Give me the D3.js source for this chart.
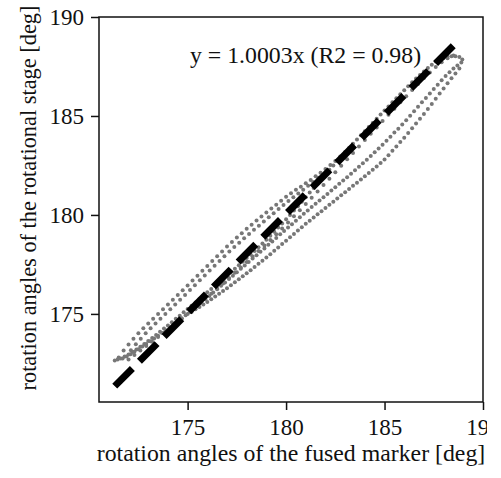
<!DOCTYPE html>
<html>
<head>
<meta charset="utf-8">
<script src="https://cdn.jsdelivr.net/npm/d3@7"></script>
<style>
  body { margin: 0; background: #fff; }
  svg { display: block; }
  text { font-family: "Liberation Serif", "Times New Roman", serif; fill: #111; }
</style>
</head>
<body>
<div id="chart"></div>
<script>
// tick labels
const xTicks = [175, 180, 185, 190];
const yTicks = [175, 180, 185, 190];

// fitted line y = 1.0003x, drawn over the measured range
const fitSlope = 1.0003;
const fitX = [171.3, 188.6];
const fitLabel = 'y = 1.0003x (R2 = 0.98)';

// measured points: [fused marker angle, rotational stage angle] (deg)
// upper dotted pass (outer row)
const passUpperA = [
  [171.50,172.80],[171.75,173.15],[172.00,173.45],[172.25,173.75],[172.50,174.02],[172.75,174.28],
  [173.00,174.52],[173.25,174.75],[173.50,175.00],[173.75,175.23],[174.00,175.47],[174.25,175.71],
  [174.50,175.95],[174.75,176.20],[175.00,176.44],[175.25,176.69],[175.50,176.93],[175.75,177.18],
  [176.00,177.42],[176.25,177.67],[176.50,177.91],[176.75,178.15],[177.00,178.40],[177.25,178.63],
  [177.50,178.86],[177.75,179.08],[178.00,179.30],[178.25,179.51],[178.50,179.72],[178.75,179.92],
  [179.00,180.12],[179.25,180.32],[179.50,180.52],[179.75,180.72],[180.00,180.92],[180.25,181.10],
  [180.50,181.27],[180.75,181.43],[181.00,181.60],[181.25,181.77],[181.50,181.95],[181.75,182.13],
  [182.00,182.32],[182.25,182.52],[182.50,182.73],[182.75,182.95],[183.00,183.18]
];
// upper dotted pass (inner row)
const passUpperB = [
  [172.12,173.17],[172.37,173.47],[172.62,173.75],[172.87,174.02],[173.12,174.27],[173.37,174.51],
  [173.62,174.75],[173.87,174.99],[174.12,175.23],[174.37,175.47],[174.62,175.72],[174.87,175.96],
  [175.12,176.21],[175.37,176.45],[175.62,176.70],[175.87,176.94],[176.12,177.19],[176.37,177.43],
  [176.62,177.67],[176.87,177.91],[177.12,178.15],[177.37,178.38],[177.62,178.60],[177.87,178.82],
  [178.12,179.04],[178.37,179.25],[178.62,179.46],[178.87,179.67],[179.12,179.88],[179.37,180.09],
  [179.62,180.30],[179.87,180.50],[180.12,180.70],[180.37,180.89],[180.62,181.08],[180.87,181.27],
  [181.12,181.47],[181.37,181.67],[181.62,181.88]
];
// dense pass close to the fit line
const passMidA = [
  [171.30,172.65],[171.45,172.70],[171.60,172.75],[171.80,172.85],[172.00,172.95],[172.20,173.07],
  [172.40,173.20],[172.60,173.34],[172.80,173.48],[173.00,173.63],[173.20,173.78],[173.40,173.94],
  [173.60,174.10],[173.80,174.26],[174.00,174.42],[174.20,174.58],[174.40,174.75],[174.60,174.91],
  [174.80,175.08],[175.00,175.25],[175.20,175.41],[175.40,175.58],[175.60,175.75],[175.80,175.92],
  [176.00,176.09],[176.20,176.26],[176.40,176.43],[176.60,176.60],[176.80,176.77],[177.00,176.94],
  [177.20,177.11],[177.40,177.28],[177.60,177.46],[177.80,177.64],[178.00,177.82],[178.20,178.00],
  [178.40,178.18],[178.60,178.37],[178.80,178.56],[179.00,178.75],[179.20,178.95],[179.40,179.15],
  [179.60,179.36],[179.80,179.57],[180.00,179.78],[180.20,180.00],[180.40,180.22],[180.60,180.44],
  [180.80,180.67],[181.00,180.90],[181.20,181.13],[181.40,181.36],[181.60,181.59],[181.80,181.82],
  [182.00,182.05],[182.20,182.28],[182.40,182.50],[182.60,182.72],[182.80,182.94],[183.00,183.16],
  [183.20,183.38],[183.40,183.60],[183.60,183.81],[183.80,184.02],[184.00,184.23],[184.20,184.44],
  [184.40,184.65],[184.60,184.86],[184.80,185.07],[185.00,185.28],[185.20,185.48],[185.40,185.69],
  [185.60,185.89],[185.80,186.10],[186.00,186.30],[186.20,186.50],[186.40,186.70],[186.60,186.89],
  [186.80,187.07],[187.00,187.25],[187.20,187.42],[187.40,187.59],[187.60,187.75],[187.80,187.85],
  [188.00,187.93],[188.20,188.00],[188.40,188.02],[188.60,188.02],[188.80,187.98],[188.95,187.85]
];
// second pass just under the fit line
const passMidB = [
  [172.0,172.70],[172.3,172.92],[172.6,173.15],[172.9,173.38],[173.2,173.60],[173.5,173.83],
  [173.8,174.05],[174.1,174.28],[174.4,174.52],[174.7,174.76],[175.0,175.00],[175.3,175.25],
  [175.6,175.51],[175.9,175.76],[176.2,176.02],[176.5,176.28],[176.8,176.54],[177.1,176.81],
  [177.4,177.08],[177.7,177.35],[178.0,177.62],[178.3,177.90],[178.6,178.18],[178.9,178.46],
  [179.2,178.74],[179.5,179.03],[179.8,179.32],[180.1,179.62],[180.4,179.93],[180.7,180.24],
  [181.0,180.55],[181.3,180.87],[181.6,181.19],[181.9,181.51],[182.2,181.83],[182.5,182.16],
  [182.8,182.48],[183.1,182.81],[183.4,183.13],[183.7,183.46],[184.0,183.78],[184.3,184.10],
  [184.6,184.42],[184.9,184.74],[185.2,185.06],[185.5,185.37],[185.8,185.69],[186.1,186.00],
  [186.4,186.31],[186.7,186.62],[187.0,186.92],[187.3,187.20],[187.6,187.47],[187.9,187.72],
  [188.2,187.92],[188.5,188.05]
];
// return pass below the line (upper row)
const passLowA = [
  [188.9,187.70],[188.7,187.55],[188.5,187.40],[188.3,187.21],[188.1,187.02],[187.9,186.81],
  [187.7,186.58],[187.5,186.36],[187.3,186.14],[187.1,185.91],[186.9,185.69],[186.7,185.46],
  [186.5,185.24],[186.3,185.01],[186.1,184.79],[185.9,184.57],[185.7,184.36],[185.5,184.16],
  [185.3,183.95],[185.1,183.75],[184.9,183.55],[184.7,183.36],[184.5,183.17],[184.3,182.98],
  [184.1,182.79],[183.9,182.61],[183.7,182.44],[183.5,182.26],[183.3,182.08],[183.1,181.91],
  [182.9,181.74],[182.7,181.57],[182.5,181.40],[182.3,181.23],[182.1,181.06],[181.9,180.90],
  [181.7,180.73],[181.5,180.57],[181.3,180.40],[181.1,180.23],[180.9,180.06],[180.7,179.88],
  [180.5,179.71],[180.3,179.53],[180.1,179.36],[179.9,179.19],[179.7,179.02],[179.5,178.84],
  [179.3,178.66],[179.1,178.49],[178.9,178.31],[178.7,178.14],[178.5,177.97],[178.3,177.80],
  [178.1,177.62],[177.9,177.45],[177.7,177.28],[177.5,177.10],[177.3,176.93],[177.1,176.76],
  [176.9,176.59],[176.7,176.42],[176.5,176.25],[176.3,176.08],[176.1,175.91],[175.9,175.74],
  [175.7,175.57],[175.5,175.41],[175.3,175.25],[175.1,175.08],[174.9,174.93],[174.7,174.78],
  [174.5,174.63],[174.3,174.48],[174.1,174.32],[173.9,174.18],[173.7,174.04],[173.5,173.90],
  [173.3,173.76],[173.1,173.62],[172.9,173.48],[172.7,173.35],[172.5,173.22],[172.3,173.09],
  [172.1,172.96],[171.9,172.85],[171.7,172.75]
];
// return pass below the line (lower row)
const passLowB = [
  [188.8,187.40],[188.6,187.15],[188.4,186.90],[188.2,186.65],[188.0,186.39],[187.8,186.13],
  [187.6,185.87],[187.4,185.61],[187.2,185.35],[187.0,185.10],[186.8,184.86],[186.6,184.62],
  [186.4,184.38],[186.2,184.14],[186.0,183.90],[185.8,183.68],[185.6,183.46],[185.4,183.24],
  [185.2,183.02],[185.0,182.80],[184.8,182.62],[184.6,182.45],[184.4,182.28],[184.2,182.12],
  [184.0,181.95],[183.8,181.79],[183.6,181.63],[183.4,181.47],[183.2,181.31],[183.0,181.15],
  [182.8,180.99],[182.6,180.83],[182.4,180.67],[182.2,180.51],[182.0,180.35],[181.8,180.19],
  [181.6,180.03],[181.4,179.87],[181.2,179.71],[181.0,179.55],[180.8,179.38],[180.6,179.21],
  [180.4,179.04],[180.2,178.87],[180.0,178.70],[179.8,178.53],[179.6,178.36],[179.4,178.19],
  [179.2,178.02],[179.0,177.85],[178.8,177.69],[178.6,177.53],[178.4,177.37],[178.2,177.21],
  [178.0,177.05],[177.8,176.90],[177.6,176.75],[177.4,176.60],[177.2,176.45],[177.0,176.30],
  [176.8,176.16],[176.6,176.02],[176.4,175.88],[176.2,175.74],[176.0,175.60],[175.8,175.48],
  [175.6,175.35],[175.4,175.23],[175.2,175.10]
];

const passes = [passUpperA, passUpperB, passMidA, passMidB, passLowA, passLowB];

const width = 501, height = 478;
const margin = { top: 17, right: 18, bottom: 76, left: 99 };
const serif = '"Liberation Serif", "Times New Roman", serif';

const svg = d3.select('#chart').append('svg')
  .attr('width', width)
  .attr('height', height);

svg.append('rect').attr('width', width).attr('height', height).attr('fill', '#fff');

const x = d3.scaleLinear()
  .domain([170.5, 190])
  .range([margin.left, width - margin.right]);

const y = d3.scaleLinear()
  .domain([170.55, 190])
  .range([height - margin.bottom, margin.top]);

// the source picture is cropped just right of the plot frame
svg.append('clipPath').attr('id', 'crop')
  .append('rect').attr('x', 0).attr('y', 0).attr('width', 487).attr('height', height);

// points
const pts = svg.append('g');
passes.forEach(pass => {
  pts.selectAll(null)
    .data(pass)
    .enter()
    .append('circle')
    .attr('cx', d => x(d[0]))
    .attr('cy', d => y(d[1]))
    .attr('r', 2)
    .attr('fill', '#777');
});

// fit line
svg.append('line')
  .attr('x1', x(fitX[0])).attr('y1', y(fitX[0] * fitSlope))
  .attr('x2', x(fitX[1])).attr('y2', y(fitX[1] * fitSlope))
  .attr('stroke', '#000')
  .attr('stroke-width', 7)
  .attr('stroke-dasharray', '25,10');

svg.append('text')
  .attr('x', 190)
  .attr('y', 63)
  .attr('font-size', 23.8)
  .text(fitLabel);

// axes
const xAxis = svg.append('g')
  .attr('transform', `translate(0,${height - margin.bottom})`)
  .attr('clip-path', 'url(#crop)')
  .call(d3.axisBottom(x).tickValues(xTicks).tickSize(8).tickPadding(9).tickFormat(d3.format('d')));

const yAxis = svg.append('g')
  .attr('transform', `translate(${margin.left},0)`)
  .call(d3.axisLeft(y).tickValues(yTicks).tickSize(8).tickPadding(7).tickFormat(d3.format('d')));

[xAxis, yAxis].forEach(a => {
  a.select('.domain').remove();
  a.selectAll('line').attr('stroke', '#111').attr('stroke-width', 1.5);
  a.selectAll('text')
    .attr('font-size', 23)
    .attr('font-family', serif)
    .attr('fill', '#111');
});

// frame
svg.append('rect')
  .attr('x', margin.left)
  .attr('y', margin.top)
  .attr('width', width - margin.left - margin.right)
  .attr('height', height - margin.top - margin.bottom)
  .attr('fill', 'none')
  .attr('stroke', '#111')
  .attr('stroke-width', 1.5);

// axis titles
svg.append('text')
  .attr('x', (margin.left + width - margin.right) / 2)
  .attr('y', 461)
  .attr('text-anchor', 'middle')
  .attr('font-size', 23.8)
  .text('rotation angles of the fused marker [deg]');

// y title: size chosen so it spans the same height as in the source (~385 px)
const yTitle = svg.append('text')
  .attr('transform', 'translate(36,198) rotate(-90)')
  .attr('text-anchor', 'middle')
  .attr('font-size', 23.8)
  .text('rotation angles of the rotational stage [deg]');
const yLen = yTitle.node().getComputedTextLength();
if (yLen > 385) yTitle.attr('font-size', 23.8 * 385 / yLen);
</script>
</body>
</html>
